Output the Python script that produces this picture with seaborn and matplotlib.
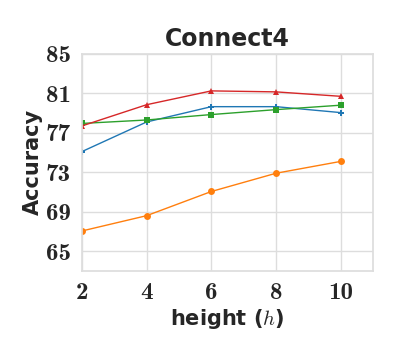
import seaborn as sns
import matplotlib.pyplot as plt
import pandas as pd

# values
heights = [2, 4, 6, 8, 10]
blue_acc = [75.1, 78.1, 79.65, 79.65, 79.05]
orange_acc = [67.05, 68.6, 71.05, 72.9, 74.1]
green_acc = [77.95, 78.3, 78.85, 79.35, 79.8]
red_acc = [77.7, 79.85, 81.25, 81.15, 80.7]

y_ticks = [65, 69, 73, 77, 81, 85]
x_ticks = [2, 4, 6, 8, 10]

series = {'blue': blue_acc, 'orange': orange_acc, 'green': green_acc, 'red': red_acc}
df = pd.concat([pd.DataFrame({'h': heights, 'acc': v, 'model': k}) for k, v in series.items()])

sns.set_theme(style='whitegrid', rc={'grid.color': '#dddddd', 'axes.edgecolor': '#dddddd'})
plt.rcParams['mathtext.fontset'] = 'cm'

fig = plt.figure(figsize=(4, 3.5), dpi=100)
ax = fig.add_axes([0.205, 0.226, 0.7275, 0.62])

palette = {'blue': '#1f77b4', 'orange': '#ff7f0e', 'green': '#2ca02c', 'red': '#d62728'}
markers = {'blue': 'P', 'orange': 'o', 'green': 's', 'red': '^'}
sns.lineplot(data=df, x='h', y='acc', hue='model', style='model', palette=palette,
             markers=markers, dashes=False, markersize=5, markeredgewidth=0,
             linewidth=1, legend=False, ax=ax)

ax.set_xlim(2, 11)
ax.set_ylim(63, 85)
ax.set_xticks(x_ticks)
ax.set_yticks(y_ticks)
ax.set_xticklabels([str(t) for t in x_ticks], fontsize=18, family='cmb10')
ax.set_yticklabels([str(t) for t in y_ticks], fontsize=18, family='cmb10')
ax.tick_params(axis='both', pad=2)
ax.set_title('Connect4', fontsize=17, fontweight='bold', pad=6)
ax.set_xlabel(r'height ($h$)', fontsize=15, fontweight='bold', labelpad=2)
ax.set_ylabel('Accuracy', fontsize=15, fontweight='bold', labelpad=2)

fig.savefig('out.png', dpi=100)
